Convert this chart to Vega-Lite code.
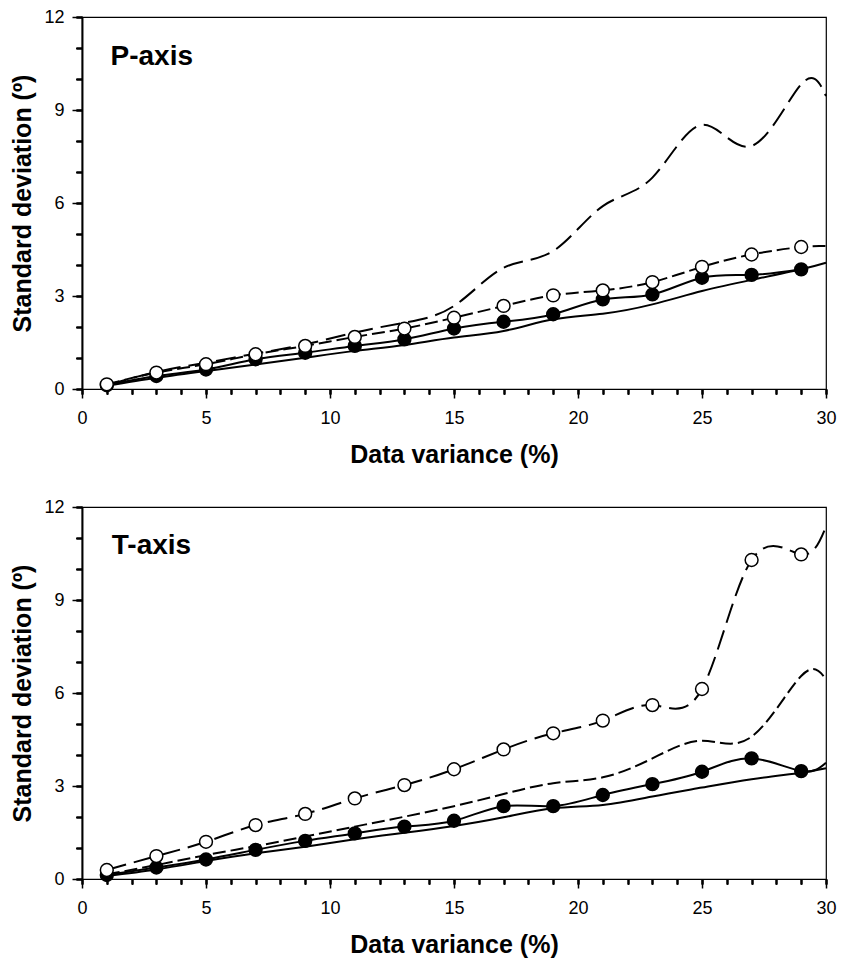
{
  "$schema": "https://vega.github.io/schema/vega-lite/v6.json",
  "background": "white",
  "padding": {"left": 10, "top": 7, "right": 5, "bottom": 5},
  "spacing": 29,
  "config": {
    "font": "Liberation Sans",
    "view": {"stroke": "black", "strokeWidth": 1.2},
    "axis": {
      "domainColor": "black", "tickColor": "black", "labelColor": "black", "titleColor": "black",
      "grid": false, "labelFontSize": 18, "titleFontSize": 25, "titleFontWeight": "bold",
      "labelOverlap": false, "labelFlush": false, "domainWidth": 1.2, "tickWidth": 1.5
    }
  },
  "datasets": {
    "P": [
      {"x":1,"v":0.10,"s":"s1"},{"x":3,"v":0.36,"s":"s1"},{"x":5,"v":0.58,"s":"s1"},{"x":7,"v":0.79,"s":"s1"},{"x":9,"v":1.01,"s":"s1"},{"x":11,"v":1.23,"s":"s1"},{"x":13,"v":1.42,"s":"s1"},{"x":15,"v":1.66,"s":"s1"},{"x":17,"v":1.87,"s":"s1"},{"x":19,"v":2.25,"s":"s1"},{"x":21,"v":2.43,"s":"s1"},{"x":23,"v":2.73,"s":"s1"},{"x":25,"v":3.16,"s":"s1"},{"x":27,"v":3.52,"s":"s1"},{"x":29,"v":3.86,"s":"s1"},{"x":30,"v":4.07,"s":"s1"},
      {"x":1,"v":0.12,"s":"s2"},{"x":3,"v":0.42,"s":"s2"},{"x":5,"v":0.63,"s":"s2"},{"x":7,"v":0.96,"s":"s2"},{"x":9,"v":1.17,"s":"s2"},{"x":11,"v":1.39,"s":"s2"},{"x":13,"v":1.60,"s":"s2"},{"x":15,"v":1.95,"s":"s2"},{"x":17,"v":2.17,"s":"s2"},{"x":19,"v":2.41,"s":"s2"},{"x":21,"v":2.89,"s":"s2"},{"x":23,"v":3.05,"s":"s2"},{"x":25,"v":3.59,"s":"s2"},{"x":27,"v":3.68,"s":"s2"},{"x":29,"v":3.86,"s":"s2"},
      {"x":1,"v":0.12,"s":"s3"},{"x":3,"v":0.55,"s":"s3"},{"x":5,"v":0.85,"s":"s3"},{"x":7,"v":1.14,"s":"s3"},{"x":9,"v":1.44,"s":"s3"},{"x":11,"v":1.82,"s":"s3"},{"x":13,"v":2.14,"s":"s3"},{"x":15,"v":2.68,"s":"s3"},{"x":17,"v":3.91,"s":"s3"},{"x":19,"v":4.45,"s":"s3"},{"x":21,"v":5.90,"s":"s3"},{"x":23,"v":6.82,"s":"s3"},{"x":25,"v":8.52,"s":"s3"},{"x":27,"v":7.84,"s":"s3"},{"x":29,"v":9.83,"s":"s3"},{"x":30,"v":9.45,"s":"s3"},
      {"x":1,"v":0.15,"s":"s4"},{"x":3,"v":0.53,"s":"s4"},{"x":5,"v":0.80,"s":"s4"},{"x":7,"v":1.12,"s":"s4"},{"x":9,"v":1.39,"s":"s4"},{"x":11,"v":1.68,"s":"s4"},{"x":13,"v":1.95,"s":"s4"},{"x":15,"v":2.30,"s":"s4"},{"x":17,"v":2.68,"s":"s4"},{"x":19,"v":3.02,"s":"s4"},{"x":21,"v":3.18,"s":"s4"},{"x":23,"v":3.45,"s":"s4"},{"x":25,"v":3.94,"s":"s4"},{"x":27,"v":4.34,"s":"s4"},{"x":29,"v":4.58,"s":"s4"},{"x":30,"v":4.61,"s":"s4"}
    ],
    "T": [
      {"x":1,"v":0.10,"s":"s1"},{"x":3,"v":0.31,"s":"s1"},{"x":5,"v":0.58,"s":"s1"},{"x":7,"v":0.83,"s":"s1"},{"x":9,"v":1.04,"s":"s1"},{"x":11,"v":1.28,"s":"s1"},{"x":13,"v":1.49,"s":"s1"},{"x":15,"v":1.71,"s":"s1"},{"x":17,"v":1.99,"s":"s1"},{"x":19,"v":2.28,"s":"s1"},{"x":21,"v":2.39,"s":"s1"},{"x":23,"v":2.66,"s":"s1"},{"x":25,"v":2.95,"s":"s1"},{"x":27,"v":3.22,"s":"s1"},{"x":29,"v":3.43,"s":"s1"},{"x":30,"v":3.57,"s":"s1"},
      {"x":1,"v":0.13,"s":"s2"},{"x":3,"v":0.37,"s":"s2"},{"x":5,"v":0.63,"s":"s2"},{"x":7,"v":0.94,"s":"s2"},{"x":9,"v":1.23,"s":"s2"},{"x":11,"v":1.47,"s":"s2"},{"x":13,"v":1.69,"s":"s2"},{"x":15,"v":1.88,"s":"s2"},{"x":17,"v":2.35,"s":"s2"},{"x":19,"v":2.35,"s":"s2"},{"x":21,"v":2.71,"s":"s2"},{"x":23,"v":3.06,"s":"s2"},{"x":25,"v":3.46,"s":"s2"},{"x":27,"v":3.89,"s":"s2"},{"x":29,"v":3.48,"s":"s2"},{"x":30,"v":3.75,"s":"s2"},
      {"x":1,"v":0.15,"s":"s3"},{"x":3,"v":0.45,"s":"s3"},{"x":5,"v":0.77,"s":"s3"},{"x":7,"v":1.06,"s":"s3"},{"x":9,"v":1.37,"s":"s3"},{"x":11,"v":1.69,"s":"s3"},{"x":13,"v":2.01,"s":"s3"},{"x":15,"v":2.35,"s":"s3"},{"x":17,"v":2.74,"s":"s3"},{"x":19,"v":3.09,"s":"s3"},{"x":21,"v":3.28,"s":"s3"},{"x":23,"v":3.89,"s":"s3"},{"x":25,"v":4.46,"s":"s3"},{"x":27,"v":4.59,"s":"s3"},{"x":29,"v":6.55,"s":"s3"},{"x":30,"v":6.44,"s":"s3"},
      {"x":1,"v":0.29,"s":"s4"},{"x":3,"v":0.74,"s":"s4"},{"x":5,"v":1.20,"s":"s4"},{"x":7,"v":1.74,"s":"s4"},{"x":9,"v":2.10,"s":"s4"},{"x":11,"v":2.60,"s":"s4"},{"x":13,"v":3.03,"s":"s4"},{"x":15,"v":3.54,"s":"s4"},{"x":17,"v":4.18,"s":"s4"},{"x":19,"v":4.70,"s":"s4"},{"x":21,"v":5.11,"s":"s4"},{"x":23,"v":5.61,"s":"s4"},{"x":25,"v":6.13,"s":"s4"},{"x":27,"v":10.29,"s":"s4"},{"x":29,"v":10.47,"s":"s4"},{"x":30,"v":11.37,"s":"s4"}
    ],
    "labels": [
      {"panel":"P","label":"P-axis","x":1.15,"y":10.7},
      {"panel":"T","label":"T-axis","x":1.2,"y":10.75}
    ]
  },
  "vconcat": [
    {
      "width": 744, "height": 372,
      "data": {"name": "P"},
      "resolve": {"axis": {"x": "independent", "y": "independent"}},
      "encoding": {
        "x": {"field": "x", "type": "quantitative", "scale": {"domain": [0, 30], "nice": false},
          "axis": {"orient": "bottom", "title": null, "labels": false, "values": [0,1,2,3,4,5,6,7,8,9,10,11,12,13,14,15,16,17,18,19,20,21,22,23,24,25,26,27,28,29,30], "tickSize": 5}},
        "y": {"field": "v", "type": "quantitative", "scale": {"domain": [0, 12], "nice": false},
          "axis": {"orient": "left", "title": null, "labels": false, "values": [0,1,2,3,4,5,6,7,8,9,10,11,12], "tickSize": 6}}
      },
      "layer": [
        {"transform": [{"filter": "datum.s === 's1'"}], "mark": {"type": "line", "interpolate": "natural", "color": "black", "strokeWidth": 2},
          "encoding": {
            "x": {"field": "x", "type": "quantitative", "scale": {"domain": [0, 30], "nice": false},
              "axis": {"orient": "bottom", "title": "Data variance (%)", "values": [0,5,10,15,20,25,30], "tickSize": 9, "labelPadding": 11, "titlePadding": 15}},
            "y": {"field": "v", "type": "quantitative", "scale": {"domain": [0, 12], "nice": false},
              "axis": {"orient": "left", "title": "Standard deviation (º)", "values": [0,3,6,9,12], "tickSize": 10, "labelPadding": 8, "titlePadding": 8}}
          }},
        {"transform": [{"filter": "datum.s === 's2'"}], "mark": {"type": "line", "interpolate": "natural", "color": "black", "strokeWidth": 2}},
        {"transform": [{"filter": "datum.s === 's3'"}], "mark": {"type": "line", "interpolate": "natural", "color": "black", "strokeWidth": 2, "strokeDash": [20, 8]}},
        {"transform": [{"filter": "datum.s === 's4'"}], "mark": {"type": "line", "interpolate": "natural", "color": "black", "strokeWidth": 2, "strokeDash": [13, 5]}},
        {"transform": [{"filter": "datum.s === 's2' && datum.x < 30"}], "mark": {"type": "point", "shape": "circle", "filled": true, "fill": "black", "stroke": "black", "strokeWidth": 1.5, "size": 165, "opacity": 1}},
        {"transform": [{"filter": "datum.s === 's4' && datum.x < 30"}], "mark": {"type": "point", "shape": "circle", "filled": true, "fill": "white", "stroke": "black", "strokeWidth": 1.5, "size": 165, "opacity": 1}},
        {"data": {"name": "labels"}, "transform": [{"filter": "datum.panel === 'P'"}],
          "mark": {"type": "text", "align": "left", "baseline": "middle", "fontSize": 28, "fontWeight": "bold", "color": "black"},
          "encoding": {
            "x": {"field": "x", "type": "quantitative", "scale": {"domain": [0, 30], "nice": false}, "axis": null},
            "y": {"field": "y", "type": "quantitative", "scale": {"domain": [0, 12], "nice": false}, "axis": null},
            "text": {"field": "label"}}}
      ]
    },
    {
      "width": 744, "height": 372,
      "data": {"name": "T"},
      "resolve": {"axis": {"x": "independent", "y": "independent"}},
      "encoding": {
        "x": {"field": "x", "type": "quantitative", "scale": {"domain": [0, 30], "nice": false},
          "axis": {"orient": "bottom", "title": null, "labels": false, "values": [0,1,2,3,4,5,6,7,8,9,10,11,12,13,14,15,16,17,18,19,20,21,22,23,24,25,26,27,28,29,30], "tickSize": 5}},
        "y": {"field": "v", "type": "quantitative", "scale": {"domain": [0, 12], "nice": false},
          "axis": {"orient": "left", "title": null, "labels": false, "values": [0,1,2,3,4,5,6,7,8,9,10,11,12], "tickSize": 6}}
      },
      "layer": [
        {"transform": [{"filter": "datum.s === 's1'"}], "mark": {"type": "line", "interpolate": "natural", "color": "black", "strokeWidth": 2},
          "encoding": {
            "x": {"field": "x", "type": "quantitative", "scale": {"domain": [0, 30], "nice": false},
              "axis": {"orient": "bottom", "title": "Data variance (%)", "values": [0,5,10,15,20,25,30], "tickSize": 9, "labelPadding": 11, "titlePadding": 15}},
            "y": {"field": "v", "type": "quantitative", "scale": {"domain": [0, 12], "nice": false},
              "axis": {"orient": "left", "title": "Standard deviation (º)", "values": [0,3,6,9,12], "tickSize": 10, "labelPadding": 8, "titlePadding": 8}}
          }},
        {"transform": [{"filter": "datum.s === 's2'"}], "mark": {"type": "line", "interpolate": "natural", "color": "black", "strokeWidth": 2}},
        {"transform": [{"filter": "datum.s === 's3'"}], "mark": {"type": "line", "interpolate": "natural", "color": "black", "strokeWidth": 2, "strokeDash": [13, 5]}},
        {"transform": [{"filter": "datum.s === 's4'"}], "mark": {"type": "line", "interpolate": "natural", "color": "black", "strokeWidth": 2, "strokeDash": [20, 8]}},
        {"transform": [{"filter": "datum.s === 's2' && datum.x < 30"}], "mark": {"type": "point", "shape": "circle", "filled": true, "fill": "black", "stroke": "black", "strokeWidth": 1.5, "size": 165, "opacity": 1}},
        {"transform": [{"filter": "datum.s === 's4' && datum.x < 30"}], "mark": {"type": "point", "shape": "circle", "filled": true, "fill": "white", "stroke": "black", "strokeWidth": 1.5, "size": 165, "opacity": 1}},
        {"data": {"name": "labels"}, "transform": [{"filter": "datum.panel === 'T'"}],
          "mark": {"type": "text", "align": "left", "baseline": "middle", "fontSize": 28, "fontWeight": "bold", "color": "black"},
          "encoding": {
            "x": {"field": "x", "type": "quantitative", "scale": {"domain": [0, 30], "nice": false}, "axis": null},
            "y": {"field": "y", "type": "quantitative", "scale": {"domain": [0, 12], "nice": false}, "axis": null},
            "text": {"field": "label"}}}
      ]
    }
  ]
}
